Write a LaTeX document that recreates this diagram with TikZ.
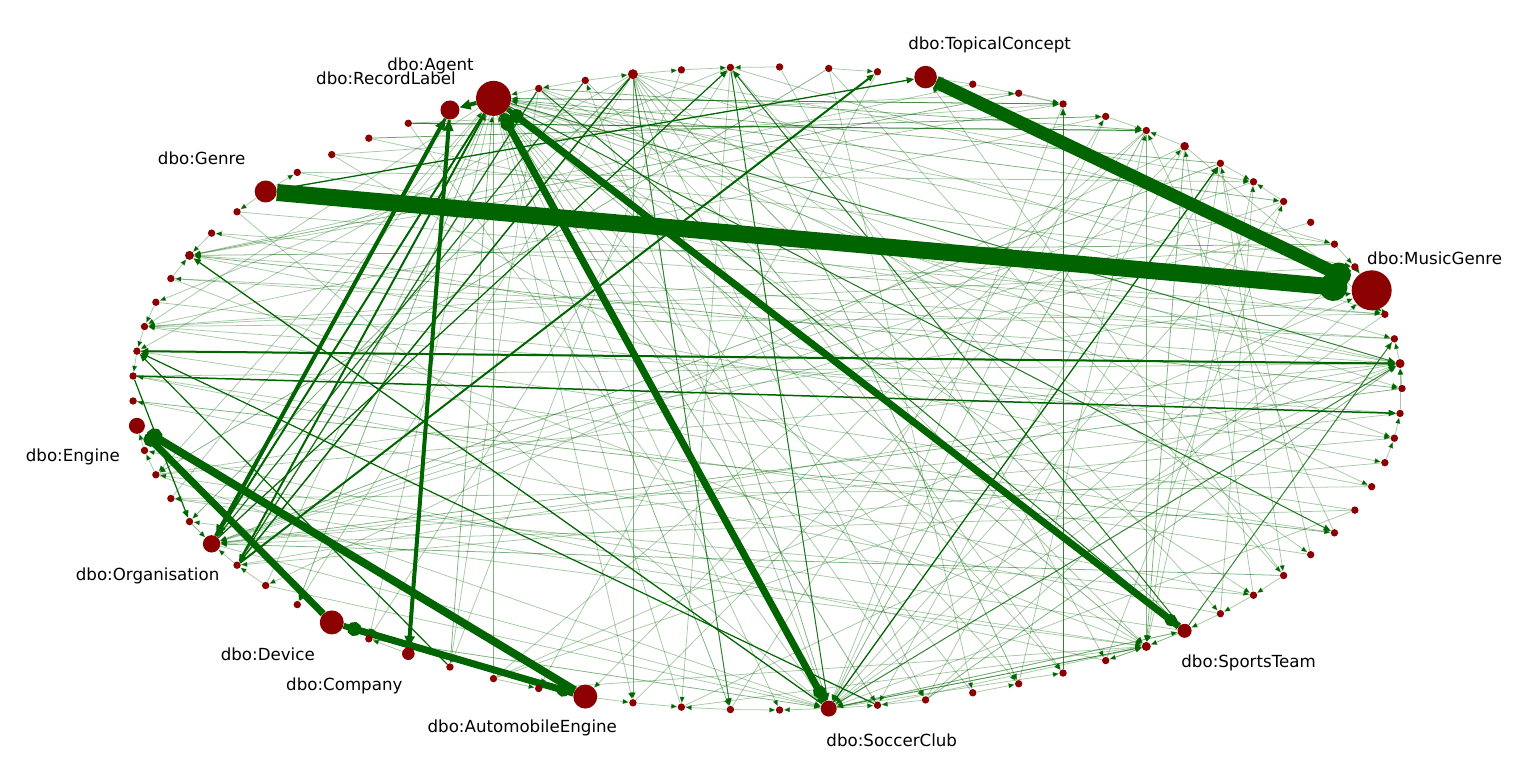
\documentclass[tikz,border=0pt]{standalone}
\usepackage{fontspec}
\setmainfont{DejaVu Sans}
\usetikzlibrary{arrows.meta,calc}
\definecolor{dred}{RGB}{139,0,0}
\definecolor{dgreen}{RGB}{0,100,0}
\pgfdeclarelayer{edgelayer}
\pgfsetlayers{edgelayer,main}
\begin{document}
\begin{tikzpicture}[x=0.72pt,y=0.72pt,
  vtx/.style={circle,fill=dred,draw=none,inner sep=0pt,minimum size=#1*1.44pt},
  lbl/.style={font=\fontsize{12}{14}\selectfont,inner sep=0pt,text=black},
  thinedge/.style={draw=dgreen,draw opacity=#1,line width=0.55pt,-{Triangle[length=4.6pt,width=3.8pt]}},
  mededge/.style={draw=dgreen,draw opacity=#1,-{Triangle[length=5.4pt,width=4.4pt]}},
  bigedge/.style={draw=dgreen}]
\useasboundingbox (-767.3,-388.5) rectangle (768.7,388.5);
% radii of the larger vertices (pixels)
\foreach \k/\rad in {4/20,17/11.3,26/17.5,27/9.5,32/11,42/8,47/8.7,51/12,53/6.3,57/12,62/8,70/7,23/5,35/4.5,1/4.5,11/4.3,69/4.5}
  {\expandafter\xdef\csname vr\k\endcsname{\rad}}
\foreach \k in {0,...,80}{
  \ifcsname vr\k\endcsname \edef\rr{\csname vr\k\endcsname}\else \def\rr{3.7}\fi
  \pgfmathsetmacro\ang{\k*4.44444444}
  \node[vtx=\rr] (n\k) at ({634.7*cos(\ang)},{321.6*sin(\ang)}) {};
}
\begin{pgfonlayer}{edgelayer}
% light edges
\foreach \s/\t/\o in {
 26/55/.5,26/58/.35,26/60/.5,26/61/.35,26/63/.5,26/64/.35,26/66/.35,26/69/.5,26/72/.35,26/79/.35,26/0/.35,26/5/.35,26/8/.5,26/44/.35,26/50/.5,26/52/.35,26/38/.35,26/14/.6,
 14/26/.35,10/26/.5,6/26/.35,65/26/.35,59/26/.35,54/26/.5,49/26/.35,45/26/.35,
 23/58/.5,23/62/.5,23/64/.35,23/67/.35,23/70/.5,23/74/.35,23/46/.5,23/50/.35,23/3/.35,23/9/.35,23/39/.35,
 21/59/.35,21/66/.5,21/71/.35,21/52/.35,21/37/.35,21/6/.35,
 19/65/.35,19/44/.5,19/73/.35,18/56/.35,20/68/.35,22/54/.35,
 25/54/.35,25/67/.35,25/77/.35,25/12/.5,25/2/.35,
 11/69/.5,12/69/.5,10/69/.35,11/63/.35,12/57/.35,10/73/.35,9/69/.35,11/49/.35,12/55/.35,10/47/.5,9/47/.35,8/47/.35,7/47/.35,13/38/.35,14/35/.35,15/35/.5,16/35/.35,13/62/.35,
 0/47/.5,80/47/.35,79/47/.35,78/48/.35,77/35/.35,76/38/.35,5/38/.35,6/35/.5,3/34/.35,2/36/.35,2/35/.35,6/38/.35,3/38/.35,
 38/80/.35,37/79/.35,36/1/.35,35/0/.5,34/78/.35,33/3/.35,31/9/.35,30/14/.35,29/13/.6,28/15/.35,30/5/.35,11/3/.35,
 58/11/.35,60/13/.35,64/10/.35,66/12/.35,68/8/.35,71/9/.35,72/11/.35,74/10/.35,75/12/.35,73/17/.35,
 69/46/.35,70/44/.35,68/43/.35,71/41/.35,72/45/.35,73/47/.5,74/40/.35,75/39/.35,76/47/.35,77/45/.35,41/75/.5,40/72/.35,
 47/62/.35,49/62/.35,52/62/.5,44/62/.35,33/62/.35,28/62/.35,14/62/.35,12/62/.5,8/62/.35,3/62/.35,76/62/.35,69/62/.5,70/62/.35,
 62/69/.5,62/70/.35,62/67/.35,62/5/.35,62/24/.35,
 59/69/.35,63/69/.35,56/69/.35,45/69/.35,36/69/.35,30/69/.35,24/69/.35,
 40/1/.35,44/1/.35,48/1/.35,55/1/.35,59/1/.35,64/1/.5,31/1/.35,29/1/.35,
 55/4/.35,64/4/.35,44/4/.35,
 32/31/.35,32/33/.35,34/35/.35,36/35/.35,37/38/.35,46/47/.5,48/47/.35,49/48/.35,53/52/.35,55/56/.35,58/59/.35,60/59/.35,60/61/.35,62/61/.35,62/63/.35,64/63/.35,65/66/.35,69/68/.35,68/69/.35,70/69/.5,71/70/.35,72/71/.35,73/72/.35,5/4/.35,3/4/.35,6/5/.35,8/9/.35,10/9/.35,11/12/.35,13/12/.35,15/14/.35,16/14/.35,16/17/.35,19/18/.35,20/21/.35,22/21/.35,23/22/.35,24/23/.35,25/26/.35,24/25/.35,43/42/.35,44/43/.35,79/80/.35,80/1/.35,0/1/.35,1/2/.35,78/79/.35,39/40/.35,38/39/.35,57/58/.35}
 {\draw[thinedge=\o] (n\s) -- (n\t);}
% medium edges
\foreach \s/\t/\w/\o in {
 26/47/2/1,26/48/2/1,23/48/1.5/1,25/48/1.3/.9,24/47/1.2/.9,48/18/2/1,1/39/2/1,39/1/1.2/.8,40/80/1.5/1,
 62/10/1.3/1,21/62/1/.9,23/60/1/.8,67/14/1/.8,32/17/1.3/1,62/35/1.3/1,63/39/1.2/1,54/39/1.2/1,40/46/1.2/1,
 62/1/1/.8,26/1/1/.8,47/21/1.2/1,70/21/1/.9,25/70/1/.9,26/75/1/.9,70/2/1/.8,28/12/1/.8}
 {\draw[mededge=\o,line width=\w*0.72pt] (n\s) -- (n\t);}
% heavy edges with triangular heads
\foreach \s/\t/\w in {26/27/4,47/27/4,27/47/3,53/27/4,27/53/3}
 {\draw[bigedge,line width=\w*0.72pt,-{Triangle[length=8pt,width=7pt]}] (n\s) -- (n\t);}
% heavy edges with round heads
\foreach \s/\t/\w/\b in {57/42/8/16,51/42/7/14,57/51/7/14,51/57/6/13,62/26/7/14,26/62/6/13,70/26/7/14,26/70/5/12,17/4/13/24,32/4/17/28}
 {\pgfmathsetmacro\bl{\b*0.72}
  \draw[bigedge,line width=\w*0.72pt,shorten >=3pt,-{Circle[length=\bl pt]}] (n\s) -- (n\t);}
\end{pgfonlayer}
% labels
\node[lbl] at ($(n4)+(63,32)$) {dbo:MusicGenre};
\node[lbl] at ($(n17)+(64,32)$) {dbo:TopicalConcept};
\node[lbl] at ($(n27)+(-64,32)$) {dbo:RecordLabel};
\node[lbl] at ($(n26)+(-63,32)$) {dbo:Agent};
\node[lbl] at ($(n32)+(-64,33)$) {dbo:Genre};
\node[lbl] at ($(n42)+(-64,-31)$) {dbo:Engine};
\node[lbl] at ($(n47)+(-64,-32)$) {dbo:Organisation};
\node[lbl] at ($(n51)+(-64,-32)$) {dbo:Device};
\node[lbl] at ($(n53)+(-64,-32)$) {dbo:Company};
\node[lbl] at ($(n57)+(-63,-31)$) {dbo:AutomobileEngine};
\node[lbl] at ($(n62)+(63,-32)$) {dbo:SoccerClub};
\node[lbl] at ($(n70)+(64,-32)$) {dbo:SportsTeam};
\end{tikzpicture}
\end{document}
